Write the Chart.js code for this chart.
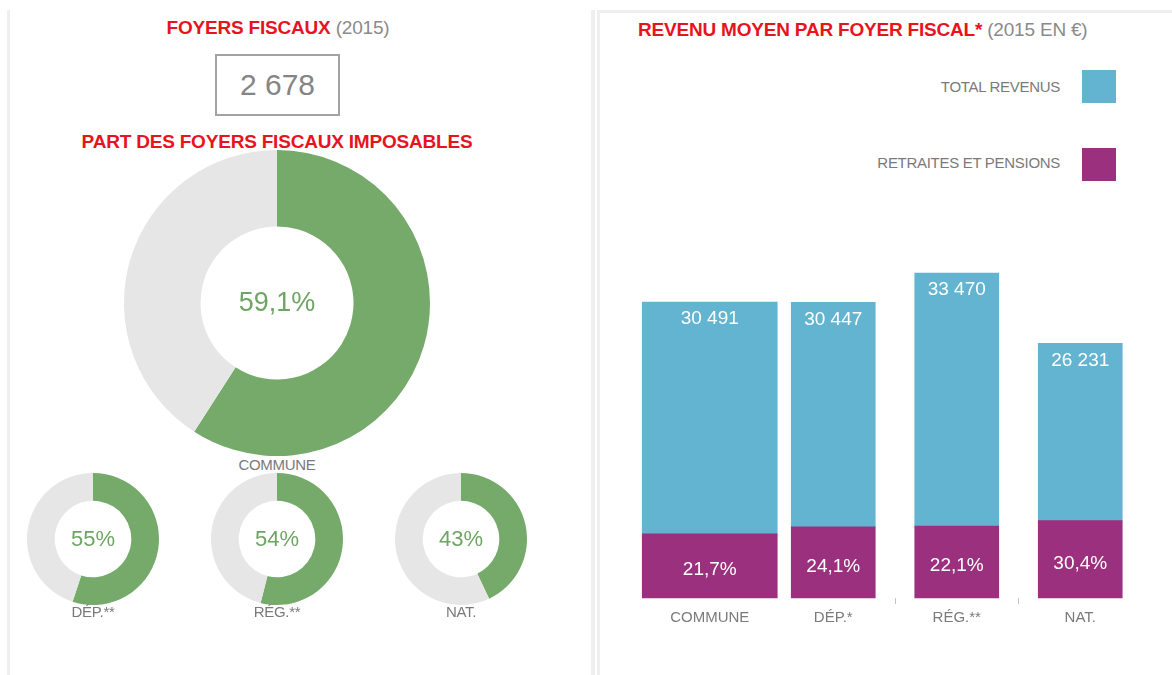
<!DOCTYPE html>
<html lang="fr">
<head>
<meta charset="UTF-8">
<title>Foyers fiscaux</title>
<style>
  body { margin:0; width:1172px; height:675px; background:#fff; position:relative; overflow:hidden;
         font-family:"Liberation Sans", Arial, sans-serif; }
  .abs { position:absolute; }
  .line { position:absolute; background:#efefef; }
  .red { color:#e8131f; font-weight:bold; }
  .grey { color:#8a8a8a; font-weight:normal; }
  .title { font-size:19px; white-space:nowrap; letter-spacing:-0.2px; }
  .center { transform:translateX(-50%); text-align:center; }
  .lab { font-size:15px; color:#7a7a7a; white-space:nowrap; letter-spacing:-0.3px; }
  .leg { position:absolute; font-size:15px; color:#7a7a7a; white-space:nowrap; letter-spacing:-0.3px; }
  .sq { position:absolute; width:34px; height:33px; }
</style>
</head>
<body>
  <!-- bordures -->
  <div class="line" style="left:7px; top:10px; width:3px; height:665px;"></div>
  <div class="line" style="left:591px; top:10px; width:4px; height:665px;"></div>
  <div class="line" style="left:597px; top:10px; width:3px; height:665px;"></div>
  <div class="line" style="left:597px; top:10px; width:575px; height:3px;"></div>

  <!-- panneau gauche -->
  <div class="abs title center" style="left:278px; top:17px;"><span class="red">FOYERS FISCAUX</span> <span class="grey">(2015)</span></div>
  <div class="abs" style="left:215px; top:54px; width:121px; height:58px; border:2px solid #a3a3a3; text-align:center; line-height:58px; font-size:30px; color:#858585;" id="nbFoyers"></div>
  <div class="abs title center red" style="left:277px; top:131px;">PART DES FOYERS FISCAUX IMPOSABLES</div>

  <canvas id="d0" class="abs" width="306" height="306" style="left:124px; top:150px;"></canvas>
  <canvas id="d1" class="abs" width="132" height="132" style="left:27px; top:473px;"></canvas>
  <canvas id="d2" class="abs" width="132" height="132" style="left:211px; top:473px;"></canvas>
  <canvas id="d3" class="abs" width="132" height="132" style="left:395px; top:473px;"></canvas>

  <div class="abs lab center" id="l0" style="left:277px; top:456px;"></div>
  <div class="abs lab center" id="l1" style="left:93px; top:603px;"></div>
  <div class="abs lab center" id="l2" style="left:277px; top:603px;"></div>
  <div class="abs lab center" id="l3" style="left:461px; top:603px;"></div>

  <!-- panneau droit -->
  <div class="abs title" style="left:638px; top:19px;"><span class="red">REVENU MOYEN PAR FOYER FISCAL*</span> <span class="grey">(2015 EN €)</span></div>
  <div class="leg" style="right:112px; top:78px;">TOTAL REVENUS</div>
  <div class="sq" style="left:1082px; top:70px; background:#63b4d1;"></div>
  <div class="leg" style="right:112px; top:154px;">RETRAITES ET PENSIONS</div>
  <div class="sq" style="left:1082px; top:148px; background:#9b307e;"></div>

  <canvas id="bars" class="abs" width="572" height="440" style="left:600px; top:200px;"></canvas>

<script src="https://cdn.jsdelivr.net/npm/chart.js"></script>
<script>
// données
var foyersFiscaux = 2678;
var donutLabels = ['COMMUNE', 'DÉP.**', 'RÉG.**', 'NAT.'];
var partImposables = [59.1, 55, 54, 43];
var partImposablesTxt = ['59,1%', '55%', '54%', '43%'];

var categories = ['COMMUNE', 'DÉP.*', 'RÉG.**', 'NAT.'];
var totalRevenus = [30491, 30447, 33470, 26231];
var partRetraites = [21.7, 24.1, 22.1, 30.4];

var GREEN = '#75aa6a', LIGHT = '#e6e6e6', BLUE = '#63b4d1', PURPLE = '#9b307e';

document.getElementById('nbFoyers').textContent = foyersFiscaux.toLocaleString('fr-FR').replace(/\s/g, ' ');
for (var i = 0; i < donutLabels.length; i++) {
    document.getElementById('l' + i).textContent = donutLabels[i];
}

// texte au centre des anneaux
var centerText = {
    id: 'centerText',
    afterDraw: function(chart, args, opts) {
        var a = chart.chartArea, c = chart.ctx;
        c.save();
        c.font = opts.size + 'px "Liberation Sans", Arial, sans-serif';
        c.fillStyle = '#6fa564';
        c.textAlign = 'center';
        c.textBaseline = 'middle';
        c.fillText(opts.text, (a.left + a.right) / 2, (a.top + a.bottom) / 2 + 1);
        c.restore();
    }
};

function f_donut(id, idx, cut, size) {
    new Chart(document.getElementById(id), {
        type: 'doughnut',
        data: {
            labels: ['imposables', 'non imposables'],
            datasets: [{
                data: [partImposables[idx], 100 - partImposables[idx]],
                backgroundColor: [GREEN, LIGHT],
                borderWidth: 0
            }]
        },
        options: {
            responsive: false,
            animation: false,
            cutout: cut,
            events: [],
            plugins: {
                legend: { display: false },
                tooltip: { enabled: false },
                centerText: { text: partImposablesTxt[idx], size: size }
            }
        },
        plugins: [centerText]
    });
}
f_donut('d0', 0, '50%', 27);
f_donut('d1', 1, '58%', 22);
f_donut('d2', 2, '58%', 22);
f_donut('d3', 3, '58%', 22);

// barres : part retraites = total * %, reste = total - part
var retraites = totalRevenus.map(function(v, i) { return v * partRetraites[i] / 100; });
var autres = totalRevenus.map(function(v, i) { return v - retraites[i]; });
function only(arr, keepFirst) {
    return arr.map(function(v, i) { return (i === 0) === keepFirst ? v : null; });
}

var barLabels = {
    id: 'barLabels',
    afterDatasetsDraw: function(chart) {
        var c = chart.ctx;
        c.save();
        c.font = '19px "Liberation Sans", Arial, sans-serif';
        c.fillStyle = '#fff';
        c.textAlign = 'center';
        c.textBaseline = 'middle';
        chart.data.datasets.forEach(function(ds, di) {
            var meta = chart.getDatasetMeta(di);
            meta.data.forEach(function(bar, i) {
                if (ds.data[i] == null) return;
                if (ds.kind === 'total') {
                    c.fillText(totalRevenus[i].toLocaleString('fr-FR').replace(/\s/g, ' '), bar.x, bar.y + 17);
                } else {
                    c.fillText(partRetraites[i].toString().replace('.', ',') + '%', bar.x, (bar.y + bar.base) / 2 + 4);
                }
            });
        });
        c.restore();
    }
};

new Chart(document.getElementById('bars'), {
    type: 'bar',
    data: {
        labels: categories,
        datasets: [
            { kind: 'pct', data: only(retraites, true), backgroundColor: PURPLE, barThickness: 135, clip: false },
            { kind: 'total', data: only(autres, true), backgroundColor: BLUE, barThickness: 135, clip: false },
            { kind: 'pct', data: only(retraites, false), backgroundColor: PURPLE, barThickness: 84, clip: false },
            { kind: 'total', data: only(autres, false), backgroundColor: BLUE, barThickness: 84, clip: false }
        ]
    },
    options: {
        responsive: false,
        animation: false,
        events: [],
        layout: { padding: { left: 48, right: 30, top: 0, bottom: 0 } },
        plugins: { legend: { display: false }, tooltip: { enabled: false } },
        scales: {
            x: {
                stacked: true,
                border: { display: false },
                grid: {
                    drawOnChartArea: false,
                    tickLength: 6,
                    tickWidth: 1,
                    color: function(ctx) { return ctx.index >= 2 ? '#c4c4c4' : 'rgba(0,0,0,0)'; }
                },
                ticks: {
                    padding: 5,
                    color: '#7a7a7a',
                    font: { family: '"Liberation Sans", Arial, sans-serif', size: 15 }
                },
                afterFit: function(s) { s.height = 42; }
            },
            y: { stacked: true, display: false, min: 0, max: 41000 }
        }
    },
    plugins: [barLabels]
});
</script>
</body>
</html>
